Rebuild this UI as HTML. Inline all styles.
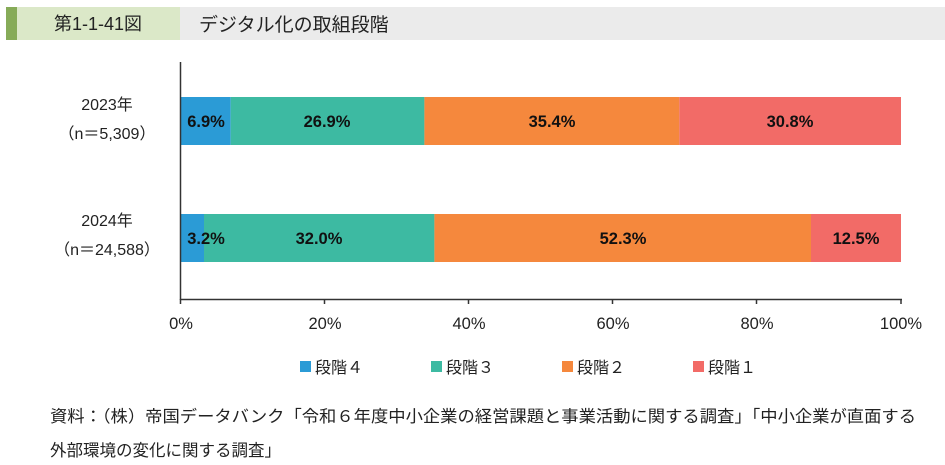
<!DOCTYPE html>
<html><head><meta charset="utf-8"><style>
body{margin:0;background:#fff;}
svg{display:block;font-family:"Liberation Sans","Noto Sans CJK JP",sans-serif;}
</style></head><body>
<svg width="945" height="465" viewBox="0 0 945 465" xmlns="http://www.w3.org/2000/svg">
<rect x="6" y="7" width="11" height="33" fill="#86ab58"/>
<rect x="17" y="7" width="163" height="33" fill="#dbe8c8"/>
<rect x="180" y="7" width="765" height="33" fill="#ebebeb"/>
<text x="98" y="30" font-size="18" text-anchor="middle" fill="#222">第1-1-41図</text>
<text x="199" y="31" font-size="19" fill="#222">デジタル化の取組段階</text>

<g font-size="16" fill="#222" text-anchor="middle">
<text x="107" y="110">2023年</text>
<text x="107" y="139">（n＝5,309）</text>
<text x="107" y="226">2024年</text>
<text x="107" y="255">（n＝24,588）</text>
</g>

<rect x="181" y="97" width="49.7" height="48" fill="#2b9bd6"/>
<rect x="230.7" y="97" width="193.7" height="48" fill="#3dbaa2"/>
<rect x="424.4" y="97" width="254.9" height="48" fill="#f5883d"/>
<rect x="679.3" y="97" width="221.7" height="48" fill="#f26b67"/>
<rect x="181" y="214" width="23" height="48" fill="#2b9bd6"/>
<rect x="204" y="214" width="230.4" height="48" fill="#3dbaa2"/>
<rect x="434.4" y="214" width="376.6" height="48" fill="#f5883d"/>
<rect x="811" y="214" width="90" height="48" fill="#f26b67"/>

<g font-size="16.5" font-weight="bold" fill="#111" text-anchor="middle">
<text x="206" y="127">6.9%</text>
<text x="327" y="127">26.9%</text>
<text x="552" y="127">35.4%</text>
<text x="790" y="127">30.8%</text>
<text x="206" y="244">3.2%</text>
<text x="319" y="244">32.0%</text>
<text x="623" y="244">52.3%</text>
<text x="856" y="244">12.5%</text>
</g>

<g stroke="#333" stroke-width="1.5">
<line x1="180.5" y1="62" x2="180.5" y2="300"/>
<line x1="180" y1="299.5" x2="902" y2="299.5"/>
<line x1="180.5" y1="299" x2="180.5" y2="304"/>
<line x1="324.5" y1="299" x2="324.5" y2="304"/>
<line x1="468.5" y1="299" x2="468.5" y2="304"/>
<line x1="612.5" y1="299" x2="612.5" y2="304"/>
<line x1="756.5" y1="299" x2="756.5" y2="304"/>
<line x1="901" y1="299" x2="901" y2="304"/>
</g>
<g font-size="16.5" fill="#222" text-anchor="middle">
<text x="181" y="329">0%</text>
<text x="325" y="329">20%</text>
<text x="469" y="329">40%</text>
<text x="613" y="329">60%</text>
<text x="757" y="329">80%</text>
<text x="901" y="329">100%</text>
</g>

<g font-size="16" fill="#222">
<rect x="300" y="361" width="11" height="11" fill="#2b9bd6"/><text x="315" y="373">段階４</text>
<rect x="431" y="361" width="11" height="11" fill="#3dbaa2"/><text x="446" y="373">段階３</text>
<rect x="562" y="361" width="11" height="11" fill="#f5883d"/><text x="577" y="373">段階２</text>
<rect x="693" y="361" width="11" height="11" fill="#f26b67"/><text x="708" y="373">段階１</text>
</g>

<g font-size="16.5" fill="#222">
<text x="50" y="422" textLength="866" lengthAdjust="spacingAndGlyphs">資料：（株）帝国データバンク「令和６年度中小企業の経営課題と事業活動に関する調査」「中小企業が直面する</text>
<text x="50" y="456">外部環境の変化に関する調査」</text>
</g>
</svg>
</body></html>
